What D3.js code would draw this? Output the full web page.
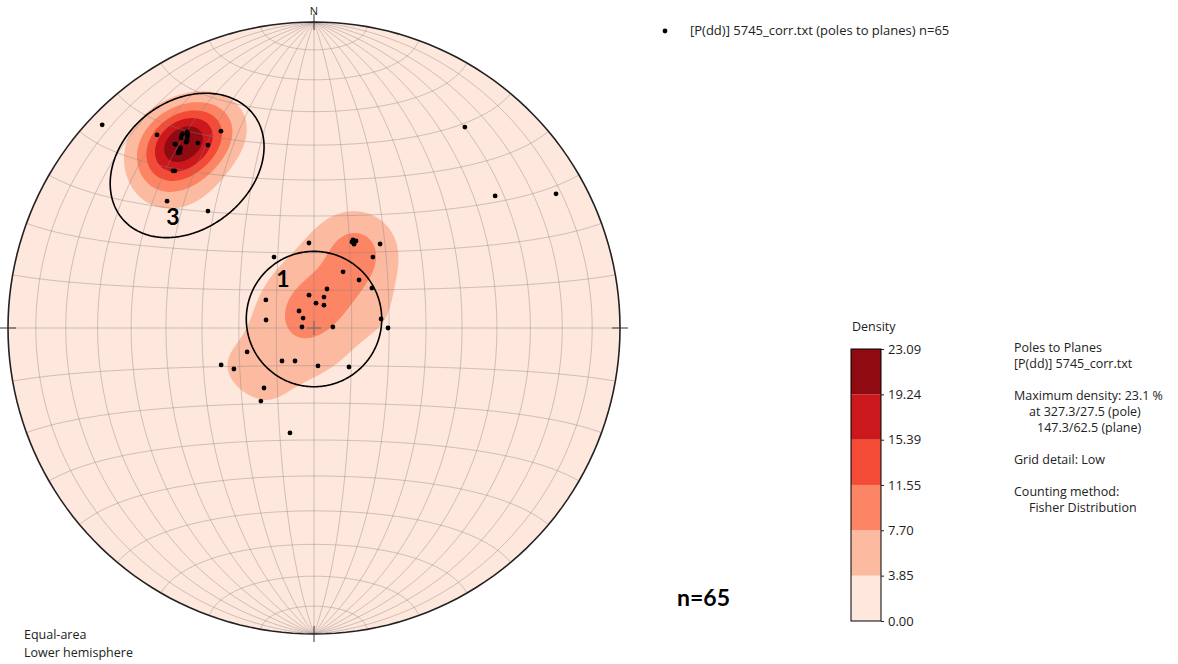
<!DOCTYPE html>
<html><head><meta charset="utf-8">
<script src="https://cdn.jsdelivr.net/npm/d3@7"></script>
<style>
body{margin:0;background:#fff}
svg{display:block}
text{font-family:"Open Sans","Noto Sans",sans-serif;fill:#222}
</style>
</head><body>
<svg id="c" width="1178" height="664"></svg>
<script>
// ---------------- DATA ----------------
// planes given as dip direction / dip ([P(dd)] file), plotted as poles
const dipDirections = [
  140.9,147.1,145.6,145.8,142.9,147.9,149.9,154.7,143.2,142.2,138.1,130.8,137.8,
  147.0,145.9,146.0,145.5,143.0,143.5,142.5,143.0,146.5,142.6,145.0,146.8,138.5,
  133.8,216.9,233.9,241.0,12.9,
  176.6,203.9,205.8,205.5,203.8,204.8,218.2,150.6,219.7,207.4,223.2,235.4,198.4,171.4,
  197.9,184.6,203.5,120.3,138.6,132.3,94.8,99.5,267.0,262.3,270.0,70.3,68.3,62.9,
  44.1,29.9,354.0,318.1,39.8,36.0
];
const dips = [
  70.2,65.3,65.4,63.0,64.4,60.6,58.5,60.4,62.2,61.6,58.4,53.3,42.8,
  65.0,65.6,63.3,62.8,64.2,62.4,61.8,62.0,64.0,61.4,64.8,64.6,58.0,
  85.4,71.0,62.4,79.5,28.8,
  22.7,25.7,25.8,24.8,25.1,25.4,28.6,21.7,24.6,16.8,17.5,18.7,10.9,8.8,
  8.6,6.6,6.6,14.8,6.0,3.9,3.2,12.9,5.0,18.0,19.7,18.9,26.7,24.0,
  12.2,10.1,10.1,13.9,20.8,24.1
];
const densityLevels = [0, 3.85, 7.70, 11.55, 15.39, 19.24, 23.09];
const maxDensity = 23.09;
const fisherK = 60;
// annotation cones (trend / plunge of axis, angular radius)
const annotationLabels = ["1", "3"];
const annotationTrends = [0, 322];
const annotationPlunges = [87.6, 32];
const annotationRadii = [18, 19.5];
const legendLabel = "[P(dd)] 5745_corr.txt (poles to planes) n=65";
const infoLines = ["Poles to Planes", "[P(dd)] 5745_corr.txt", "", "Maximum density: 23.1 %",
  "at 327.3/27.5 (pole)", "147.3/62.5 (plane)", "", "Grid detail: Low", "", "Counting method:", "Fisher Distribution"];
const infoIndent = [0, 0, 0, 0, 15, 23, 0, 0, 0, 0, 15];
const projLabels = ["Equal-area", "Lower hemisphere"];
const countLabel = "n=65";

// ---------------- SETUP ----------------
const svg = d3.select("#c");
const cx = 314, cy = 328, R = 306;
const rad = Math.PI / 180;
const projection = d3.geoAzimuthalEqualArea().rotate([0, 0])
  .scale(R / Math.SQRT2).translate([cx, cy]).clipAngle(90).precision(0.1);
const path = d3.geoPath(projection);

const redsScale = d3.scaleLinear().domain(d3.range(9).map(i => i / 8)).range(d3.schemeReds[9]);
const nBins = densityLevels.length - 1;
const binColors = d3.range(nBins).map(i => redsScale((i + 0.5) / nBins));

function lineToLonLat(trend, plunge) {
  const t = trend * rad, p = plunge * rad;
  const E = Math.cos(p) * Math.sin(t), N = Math.cos(p) * Math.cos(t), D = Math.sin(p);
  return [Math.atan2(E, D) / rad, Math.asin(Math.max(-1, Math.min(1, N))) / rad];
}
function toVec(ll) {
  const l = ll[0] * rad, f = ll[1] * rad;
  return [Math.cos(f) * Math.cos(l), Math.cos(f) * Math.sin(l), Math.sin(f)];
}
const poles = dipDirections.map((dd, i) => lineToLonLat((dd + 180) % 360, 90 - dips[i]));
const poleVecs = poles.map(toVec);
const n = poles.length;

// ---------------- DENSITY GRID (Fisher kernel) ----------------
const cell = 2, nx = Math.ceil(2 * R / cell), ny = nx, x0 = cx - R, y0 = cy - R;
const values = new Float64Array(nx * ny);
let vmax = 0;
for (let j = 0; j < ny; j++) {
  for (let i = 0; i < nx; i++) {
    let px = x0 + (i + 0.5) * cell, py = y0 + (j + 0.5) * cell;
    let dx = px - cx, dy = py - cy, r = Math.hypot(dx, dy);
    if (r > R - 0.05) { const s = (R - 0.05) / r; dx *= s; dy *= s; }
    const v = toVec(projection.invert([cx + dx, cy + dy]));
    let s = 0;
    for (let k = 0; k < n; k++) {
      const p = poleVecs[k];
      const d = Math.abs(v[0] * p[0] + v[1] * p[1] + v[2] * p[2]);
      s += Math.exp(fisherK * (d - 1));
    }
    values[j * nx + i] = s;
    if (s > vmax) vmax = s;
  }
}
for (let q = 0; q < values.length; q++) values[q] = values[q] / vmax * maxDensity;
const contours = d3.contours().size([nx, ny]).thresholds(densityLevels.slice(1, -1))(values);
const gridPath = d3.geoPath(d3.geoIdentity().scale(cell).translate([x0, y0]));

// ---------------- DRAW NET ----------------
svg.append("rect").attr("width", 1178).attr("height", 664).attr("fill", "#fff");
svg.append("defs").append("clipPath").attr("id", "netclip")
  .append("path").attr("d", path({type: "Sphere"}));

const net = svg.append("g");
net.append("path").attr("d", path({type: "Sphere"})).attr("fill", binColors[0]);
net.append("g").attr("clip-path", "url(#netclip)")
  .selectAll("path").data(contours).join("path")
  .attr("d", gridPath)
  .attr("fill", (d, i) => binColors[i + 1]);

// graticule (10 degree)
const gridLines = [];
for (let lon = -80; lon <= 80; lon += 10)
  gridLines.push({type: "LineString", coordinates: d3.range(-89.99, 89.995, 1).concat([89.99]).map(lat => [lon, lat])});
for (let lat = -80; lat <= 80; lat += 10)
  gridLines.push({type: "LineString", coordinates: d3.range(-89.99, 89.995, 1).concat([89.99]).map(lon => [lon, lat])});
net.append("g").selectAll("path").data(gridLines).join("path")
  .attr("d", path).attr("fill", "none")
  .attr("stroke", "#8a7f7f").attr("stroke-opacity", 0.4).attr("stroke-width", 1);

// outline
net.append("path").attr("d", path({type: "Sphere"}))
  .attr("fill", "none").attr("stroke", "#222").attr("stroke-width", 1.6);

// cardinal ticks
const cardinal = [[0, 89.99], [89.99, 0], [0, -89.99], [-89.99, 0]];
cardinal.forEach(ll => {
  const [x, y] = projection(ll);
  const ux = (x - cx) / R, uy = (y - cy) / R;
  net.append("line").attr("x1", x - ux * 8).attr("y1", y - uy * 8)
    .attr("x2", x + ux * 8).attr("y2", y + uy * 8)
    .attr("stroke", "#333").attr("stroke-width", 1);
});
const [nxp, nyp] = projection([0, 89.99]);
net.append("text").attr("x", nxp).attr("y", nyp - 7).attr("text-anchor", "middle")
  .attr("font-size", 11).text("N");

// center cross
const [ccx, ccy] = projection([0, 0]);
net.append("path").attr("d", `M${ccx - 7},${ccy}H${ccx + 7}M${ccx},${ccy - 7}V${ccy + 7}`)
  .attr("stroke", "#666").attr("stroke-width", 1);

// poles
net.append("g").selectAll("circle").data(poles).join("circle")
  .attr("cx", d => projection(d)[0]).attr("cy", d => projection(d)[1])
  .attr("r", 2.4).attr("fill", "#000");

// annotation circles
annotationLabels.forEach((lab, i) => {
  const circ = d3.geoCircle().center(lineToLonLat(annotationTrends[i], annotationPlunges[i]))
    .radius(annotationRadii[i]).precision(1)();
  net.append("path").attr("d", path(circ)).attr("fill", "none")
    .attr("stroke", "#000").attr("stroke-width", 1.6);
});
const labelPos = [[283, 287], [173, 225]];
annotationLabels.forEach((lab, i) => {
  net.append("text").attr("x", labelPos[i][0]).attr("y", labelPos[i][1])
    .attr("text-anchor", "middle").attr("font-size", 23).attr("font-weight", "bold")
    .style("font-family", "Lato, 'Open Sans', sans-serif").style("fill", "#000").text(lab);
});

// ---------------- LEGEND ----------------
svg.append("circle").attr("cx", 665).attr("cy", 31).attr("r", 2.4).attr("fill", "#000");
svg.append("text").attr("x", 690).attr("y", 35).attr("font-size", 13).text(legendLabel);

// projection labels
svg.selectAll("text.proj").data(projLabels).join("text").attr("class", "proj")
  .attr("x", 24).attr("y", (d, i) => 639 + i * 18).attr("font-size", 12.5).text(d => d);

// n=65
svg.append("text").attr("x", 677).attr("y", 606).attr("font-size", 23).attr("font-weight", "bold")
  .style("font-family", "Lato, 'Open Sans', sans-serif").style("fill", "#000").text(countLabel);

// ---------------- COLORBAR ----------------
const cbX = 851, cbW = 30;
const cbScale = d3.scaleLinear().domain([densityLevels[0], densityLevels[nBins]]).range([621, 349]);
const cb = svg.append("g");
cb.selectAll("rect").data(d3.range(nBins)).join("rect")
  .attr("x", cbX).attr("width", cbW)
  .attr("y", i => cbScale(densityLevels[i + 1]))
  .attr("height", i => cbScale(densityLevels[i]) - cbScale(densityLevels[i + 1]))
  .attr("fill", i => binColors[i]);
cb.append("rect").attr("x", cbX).attr("y", cbScale.range()[1]).attr("width", cbW)
  .attr("height", cbScale.range()[0] - cbScale.range()[1])
  .attr("fill", "none").attr("stroke", "#000").attr("stroke-width", 1);
const axis = cb.append("g").attr("transform", `translate(${cbX + cbW},0)`)
  .call(d3.axisRight(cbScale).tickValues(densityLevels).tickFormat(d3.format(".2f")).tickSize(3).tickPadding(4));
axis.select(".domain").remove();
axis.selectAll("text").attr("font-size", 13).style("font-family", "'Open Sans', sans-serif").style("fill", "#222");
axis.selectAll("line").attr("stroke", "#222");
svg.append("text").attr("x", 852).attr("y", 331).attr("font-size", 12.5).text("Density");

// ---------------- INFO TEXT ----------------
svg.selectAll("text.info").data(infoLines).join("text").attr("class", "info")
  .attr("x", (d, i) => 1014 + infoIndent[i]).attr("y", (d, i) => 351.5 + i * 16)
  .attr("font-size", 12.5).text(d => d);
</script>
</body></html>
